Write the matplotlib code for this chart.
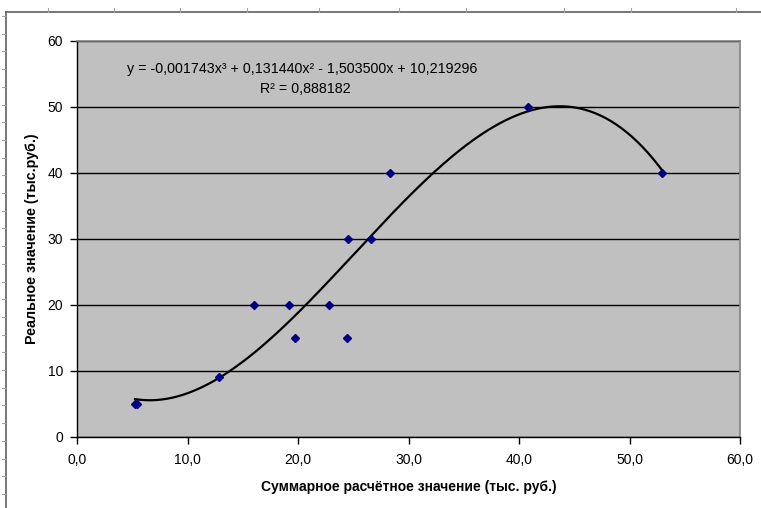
"""Диаграмма рассеяния: реальное и суммарное расчётное значение с полиномиальным трендом."""

import matplotlib

matplotlib.use("Agg")
import matplotlib.pyplot as plt
import numpy as np
from matplotlib.lines import Line2D
from matplotlib.ticker import FuncFormatter, MultipleLocator

plt.rcParams["font.family"] = ["Liberation Sans", "DejaVu Sans"]

# точки наблюдений
raschet = [5.25, 5.45, 12.85, 16.05, 19.2, 19.7, 22.8, 24.4, 24.55, 26.6, 28.3, 40.85, 52.95]
realnoe = [5, 5, 9, 20, 20, 15, 20, 15, 30, 30, 40, 50, 40]

# коэффициенты полинома 3-й степени (как в подписи линии тренда)
koef = [-0.001743, 0.131440, -1.503500, 10.219296]
r2 = 0.888182

# метки линейки по краям страницы (пиксели)
ruler_top = [48, 114, 180, 247, 319, 399, 466, 564, 631, 736]
ruler_left_start, ruler_left_step = 16, 17.7

W, H = 761, 508
fig = plt.figure(figsize=(W / 100, H / 100), dpi=100)
fig.patch.set_facecolor("white")


def fx(px):
    return px / W


def fy(py):
    return 1 - py / H


# линейка: верхняя и левая линии с засечками
ruler_color = "#606060"
fig.add_artist(Line2D([fx(6), 1], [fy(12), fy(12)], color=ruler_color, lw=1.2))
fig.add_artist(Line2D([fx(6), fx(6)], [fy(12), 0], color=ruler_color, lw=1.2))
for px in ruler_top:
    fig.add_artist(Line2D([fx(px), fx(px)], [fy(8), fy(12)], color="#a0a0a0", lw=0.8))
for py in np.arange(ruler_left_start, H, ruler_left_step):
    fig.add_artist(Line2D([fx(2), fx(5)], [fy(py), fy(py)], color="#a0a0a0", lw=0.8))

left, right, top, bottom = 77, 740, 40.7, 436.7
ax = fig.add_axes([fx(left), fy(bottom), fx(right - left), (bottom - top) / H])
ax.set_facecolor("#c0c0c0")
ax.set_xlim(0, 60)
ax.set_ylim(0, 60)

ax.xaxis.set_major_locator(MultipleLocator(10))
ax.yaxis.set_major_locator(MultipleLocator(10))
ax.xaxis.set_major_formatter(FuncFormatter(lambda v, _: f"{v:.1f}".replace(".", ",")))
ax.yaxis.set_major_formatter(FuncFormatter(lambda v, _: f"{v:.0f}"))
ax.tick_params(axis="both", direction="out", length=5, width=1, color="black",
               labelsize=10, pad=5)
ax.tick_params(axis="x", pad=7)

ax.grid(axis="y", color="black", lw=1)
ax.set_axisbelow(True)
for side in ("top", "right"):
    ax.spines[side].set_color("#808080")
    ax.spines[side].set_linewidth(1.2)
for side in ("left", "bottom"):
    ax.spines[side].set_color("black")
    ax.spines[side].set_linewidth(1)

xs = np.linspace(min(raschet), max(raschet), 300)
ax.plot(xs, np.polyval(koef, xs), color="black", lw=1.6, zorder=3)
ax.plot(raschet, realnoe, linestyle="none", marker="D", markersize=4.2,
        color="#000080", zorder=4)

ax.set_xlabel("Суммарное расчётное значение (тыс. руб.)", fontsize=10,
              fontweight="bold", labelpad=9)
ax.set_ylabel("Реальное значение (тыс.руб.)", fontsize=10.3, fontweight="bold",
              labelpad=6)

eq = "y = -0,001743x³ + 0,131440x² - 1,503500x + 10,219296"
ax.text(0.340, 0.929, eq, transform=ax.transAxes, ha="center", va="center",
        fontsize=10.3)
ax.text(0.345, 0.879, f"R² = {r2:.6f}".replace(".", ","), transform=ax.transAxes,
        ha="center", va="center", fontsize=10.3)

fig.savefig("out.png", dpi=100)
